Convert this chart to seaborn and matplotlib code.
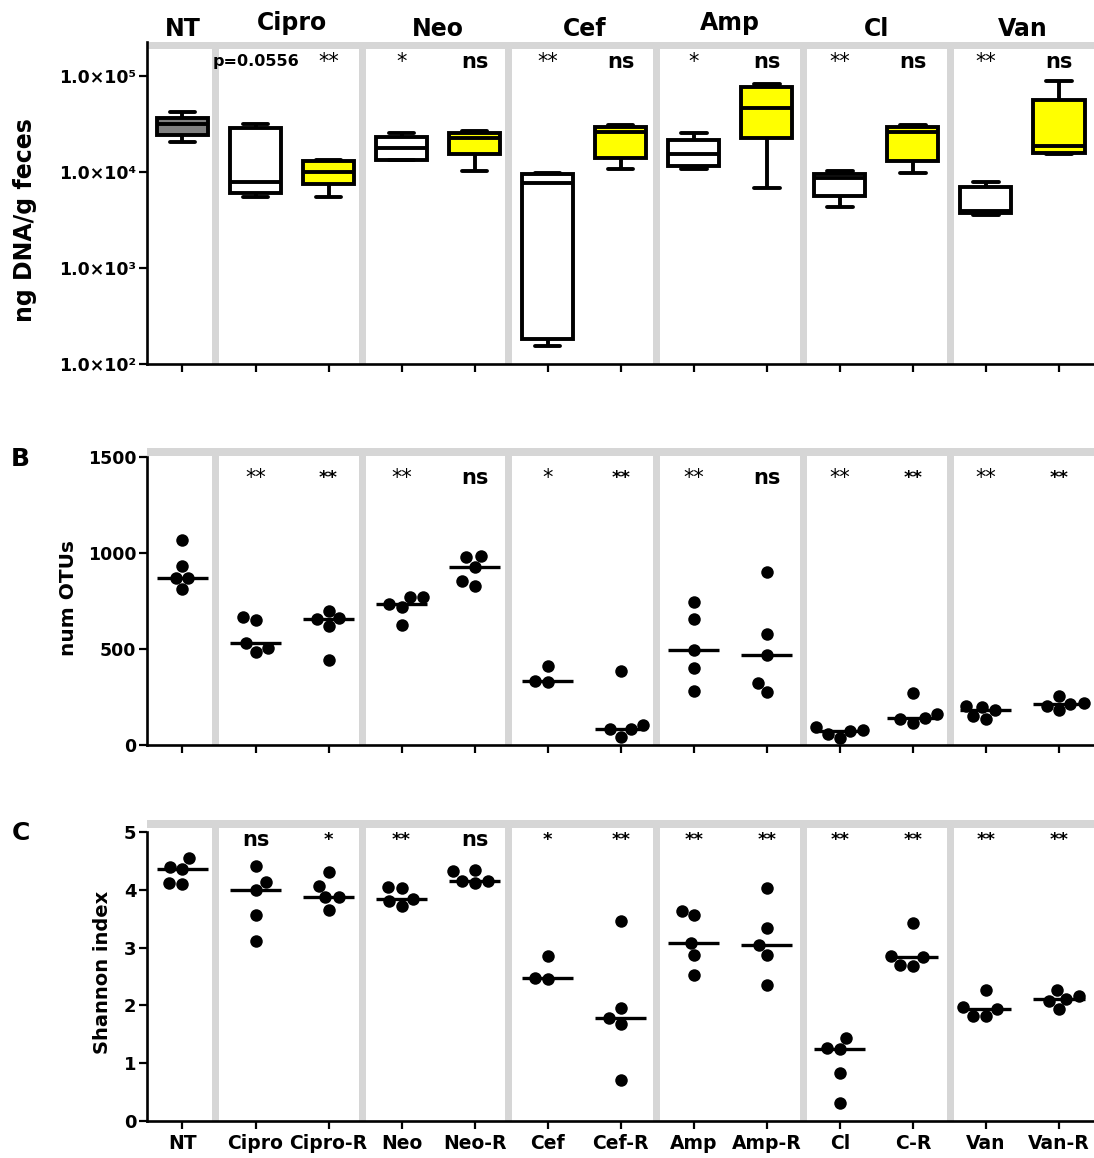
import matplotlib
matplotlib.use("Agg")
import pandas as pd
import matplotlib.pyplot as plt
import seaborn as sns
from matplotlib.patches import Rectangle

# ----------------------------
# Data
# ----------------------------
categories = ["NT", "Cipro", "Cipro-R", "Neo", "Neo-R", "Cef", "Cef-R",
              "Amp", "Amp-R", "Cl", "C-R", "Van", "Van-R"]
group_names = ["NT", "Cipro", "Neo", "Cef", "Amp", "Cl", "Van"]

# A: ng DNA / g feces (min, q1, median, q3, max per group)
dna_ng = [
    [20500, 24300, 31600, 36500, 42000],
    [5500, 6040, 7870, 28700, 31600],
    [5500, 7500, 10000, 13000, 13300],
    [13200, 13300, 17800, 23200, 25500],
    [10240, 15400, 22600, 25500, 26700],
    [154, 182, 7680, 9540, 9770],
    [10700, 14000, 26100, 29400, 30900],
    [10700, 11550, 15400, 21500, 25500],
    [6810, 22600, 46400, 76800, 82500],
    [4310, 5620, 8660, 9550, 10200],
    [9770, 13000, 26100, 29400, 30900],
    [3570, 3740, 3920, 6980, 7870],
    [15400, 15800, 18600, 56200, 88700],
]

# B: number of OTUs
num_otus = [
    [1070, 932, 870, 868, 812],
    [668, 651, 533, 507, 486],
    [700, 660, 654, 621, 443],
    [772, 769, 734, 717, 625],
    [984, 977, 928, 852, 828],
    [413, 333, 330],
    [385, 104, 84, 82, 43],
    [746, 656, 495, 399, 281],
    [902, 576, 469, 321, 274],
    [92, 81, 74, 58, 35],
    [269, 161, 142, 134, 113],
    [205, 199, 182, 152, 135],
    [255, 217, 213, 203, 182],
]

# C: Shannon index
shannon = [
    [4.55, 4.40, 4.36, 4.12, 4.10],
    [4.41, 4.14, 4.00, 3.57, 3.12],
    [4.31, 4.06, 3.88, 3.87, 3.66],
    [4.05, 4.04, 3.84, 3.80, 3.72],
    [4.35, 4.32, 4.16, 4.16, 4.12],
    [2.86, 2.48, 2.46],
    [3.46, 1.95, 1.78, 1.68, 0.71],
    [3.64, 3.56, 3.08, 2.87, 2.52],
    [4.03, 3.34, 3.04, 2.87, 2.35],
    [1.44, 1.26, 1.25, 0.83, 0.31],
    [3.43, 2.86, 2.83, 2.70, 2.69],
    [2.26, 1.97, 1.93, 1.82, 1.82],
    [2.26, 2.17, 2.11, 2.08, 1.93],
]

sig_a = ["", "p=0.0556", "**", "*", "ns", "**", "ns", "*", "ns", "**", "ns", "**", "ns"]
sig_b = ["", "**", "**", "**", "ns", "*", "**", "**", "ns", "**", "**", "**", "**"]
sig_c = ["", "ns", "*", "**", "ns", "*", "**", "**", "**", "**", "**", "**", "**"]

box_colors = ["#808080"] + ["white", "#ffff00"] * 6
band = "#d6d6d6"
separators = [0.45, 2.46, 4.47, 6.49, 8.50, 10.52]


def long_frame(values):
    rows = [(c, v) for c, vals in zip(categories, values) for v in vals]
    return pd.DataFrame(rows, columns=["group", "value"])


sns.set_theme(style="ticks")
plt.rcParams["font.family"] = ["DejaVu Sans"]
plt.rcParams["font.weight"] = "bold"
plt.rcParams["axes.linewidth"] = 1.9
for key in ["text.color", "axes.labelcolor", "axes.edgecolor",
            "xtick.color", "ytick.color"]:
    plt.rcParams[key] = "black"

fig = plt.figure(figsize=(10.94, 11.58), dpi=100)
axA = fig.add_axes([0.1341, 0.6857, 0.8659, 0.2780])
axB = fig.add_axes([0.1341, 0.3566, 0.8659, 0.2565])
axC = fig.add_axes([0.1341, 0.0320, 0.8659, 0.2599])

# ----------------------------
# A: box plots, log scale
# ----------------------------
axA.set_yscale("log")
sns.boxplot(data=long_frame(dna_ng), x="group", y="value", hue="group",
            order=categories, hue_order=categories,
            palette=dict(zip(categories, box_colors)), saturation=1,
            whis=(0, 100), width=0.7, linecolor="black", linewidth=2.8,
            showfliers=False, legend=False, ax=axA)
axA.set_ylim(100, 2.26e5)
axA.set_yticks([1e2, 1e3, 1e4, 1e5])
axA.set_yticklabels(["1.0×10²", "1.0×10³", "1.0×10⁴", "1.0×10⁵"])
axA.minorticks_off()

# ----------------------------
# B, C: dot plots with median line
# ----------------------------
for ax, vals in [(axB, num_otus), (axC, shannon)]:
    df = long_frame(vals)
    sns.boxplot(data=df, x="group", y="value", order=categories, width=0.7,
                showfliers=False, whis=0,
                boxprops={"visible": False}, whiskerprops={"visible": False},
                capprops={"visible": False},
                medianprops={"color": "black", "linewidth": 2.4}, ax=ax)
    sns.swarmplot(data=df, x="group", y="value", order=categories,
                  color="black", size=9, ax=ax, zorder=3)

axB.set_ylim(0, 1547)
axB.set_yticks([0, 500, 1000, 1500])
axB.spines["left"].set_bounds(0, 1500)
axC.set_ylim(0, 5.21)
axC.set_yticks([0, 1, 2, 3, 4, 5])
axC.spines["left"].set_bounds(0, 5)

# ----------------------------
# common styling
# ----------------------------
band_h = {axA: 0.022, axB: 0.027, axC: 0.027}
for ax in [axA, axB, axC]:
    ax.set_xlim(-0.49, 12.48)
    ax.set_xlabel("")
    ax.set_ylabel("")
    ax.spines["top"].set_visible(False)
    ax.spines["right"].set_visible(False)
    ax.tick_params(axis="both", direction="out", length=5.5, width=1.6,
                   color="black", labelcolor="black", pad=2)
    h = band_h[ax]
    ax.add_patch(Rectangle((0, 1 - h), 1, h, transform=ax.transAxes,
                           facecolor=band, lw=0, clip_on=False, zorder=0.5))
    for s in separators:
        ax.axvspan(s - 0.048, s + 0.048, ymin=0, ymax=1 - h,
                   color=band, lw=0, zorder=0)
    for lab in ax.get_yticklabels():
        lab.set_fontweight("bold")
        lab.set_fontsize(12.5)

axA.set_xticks(range(13))
axA.set_xticklabels([])
axB.set_xticks(range(13))
axB.set_xticklabels([])
axC.set_xticks(range(13))
axC.set_xticklabels(categories, fontsize=13.5, fontweight="bold")
axC.tick_params(axis="x", pad=4)
for lab in axC.get_yticklabels():
    lab.set_fontsize(13)

# group names above panel A
for g in group_names:
    i = categories.index(g)
    xpos = i if g == "NT" else i + 0.5
    ypos = 1.037 if g in ("Cipro", "Amp") else 1.019
    axA.text(xpos, ypos, g, transform=axA.get_xaxis_transform(),
             ha="center", va="baseline", fontsize=17, fontweight="bold")

# significance labels
for ax, sig, yfrac, panel in [(axA, sig_a, 0.938, "A"),
                              (axB, sig_b, 0.899, "B"),
                              (axC, sig_c, 0.934, "C")]:
    for i, s in enumerate(sig):
        if not s:
            continue
        if s.startswith("p="):
            w, fs = "bold", 11.5
        elif s == "ns":
            w, fs = "bold", 15
        elif panel == "A" or (panel == "B" and not categories[i].endswith("R")):
            w, fs = "normal", 15
        else:
            w, fs = "bold", 13
        ax.text(i, yfrac, s, transform=ax.get_xaxis_transform(),
                ha="center", va="center", fontsize=fs, fontweight=w)

# axis titles and panel letters
fig.text(25 / 1094, 1 - 220 / 1158, "ng DNA/g feces", rotation=90,
         ha="center", va="center", fontsize=17, fontweight="bold")
fig.text(68 / 1094, 1 - 598 / 1158, "num OTUs", rotation=90,
         ha="center", va="center", fontsize=14.5, fontweight="bold")
fig.text(102 / 1094, 1 - 972 / 1158, "Shannon index", rotation=90,
         ha="center", va="center", fontsize=14, fontweight="bold")
fig.text(20 / 1094, 1 - 459 / 1158, "B", ha="center", va="center",
         fontsize=18, fontweight="bold")
fig.text(21 / 1094, 1 - 833 / 1158, "C", ha="center", va="center",
         fontsize=18, fontweight="bold")

fig.savefig("out.png", dpi=100)
